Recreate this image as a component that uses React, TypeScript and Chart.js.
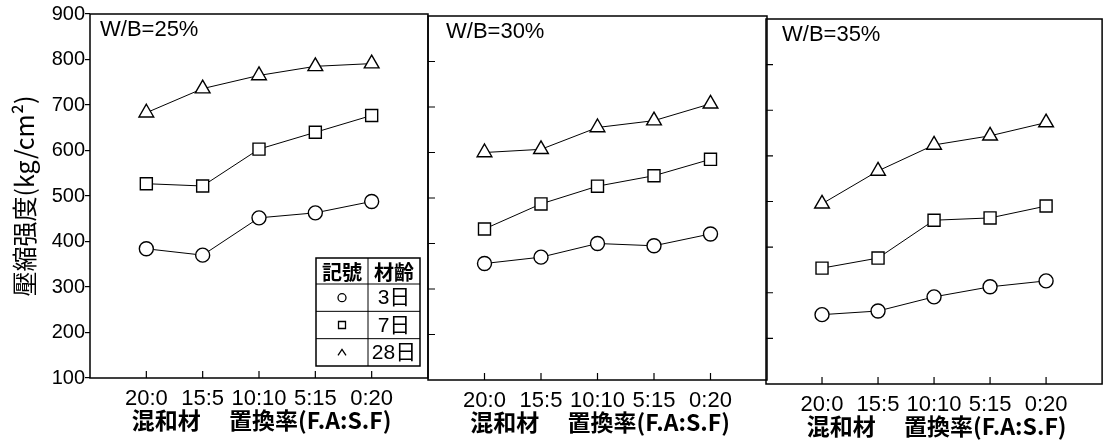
import React, { useEffect, useRef } from 'react';
import { Chart, registerables } from 'chart.js';

Chart.register(...registerables);

const W = 1112;
const H = 445;

// ---- data ----
const categories = ['20:0', '15:5', '10:10', '5:15', '0:20'];
const yMin = 100;
const yMax = 900;
const yStep = 100;
const panelTitles = ['W/B=25%', 'W/B=30%', 'W/B=35%'];
const ageLabels = ['3日', '7日', '28日'];
const legendHeader = ['記號', '材齡'];
const xAxisTitle = ' 混和材　 置換率(F.A:S.F)';
const yAxisTitle = '壓縮强度(kg/cm²)';

const wb25_day3 = [384, 370, 452, 463, 488];
const wb25_day7 = [527, 522, 603, 640, 677];
const wb25_day28 = [683, 736, 765, 785, 791];

const wb30_day3 = [356, 370, 400, 395, 421];
const wb30_day7 = [432, 487, 526, 549, 585];
const wb30_day28 = [600, 607, 655, 670, 707];

const wb35_day3 = [252, 260, 291, 313, 326];
const wb35_day7 = [354, 376, 459, 464, 490];
const wb35_day28 = [495, 567, 624, 644, 673];

const panelSeries = [
  [wb25_day3, wb25_day7, wb25_day28],
  [wb30_day3, wb30_day7, wb30_day28],
  [wb35_day3, wb35_day7, wb35_day28],
];

// ---- layout / style ----
const panelFrames = [
  { left: 90, right: 428, top: 14, bottom: 378, labelDx: 10 },
  { left: 428, right: 767, top: 16, bottom: 380, labelDx: 18 },
  { left: 766, right: 1103, top: 19, bottom: 384, labelDx: 16 },
];
const X_AXIS_H = 60;
const Y_AXIS_W = 86;
const LATIN = "'Liberation Sans', 'Noto Sans CJK KR', sans-serif";
const CJK = "'Noto Sans CJK KR', 'Liberation Sans', sans-serif";
const pointStyles = ['circle', 'rect', 'triangle'];
const pointRadii = [7, 8.5, 8.5];

function decorPlugin(i: number) {
  return {
    id: 'decor' + i,
    afterDraw(chart: any) {
      const ctx = chart.ctx as CanvasRenderingContext2D;
      const { left, right, top, bottom } = chart.chartArea;
      const xs = chart.scales.x;
      const ys = chart.scales.y;
      ctx.save();
      ctx.strokeStyle = '#000';
      ctx.fillStyle = '#000';
      // frame
      ctx.lineWidth = 1.5;
      ctx.strokeRect(left, top, right - left, bottom - top);
      // inward ticks
      ctx.lineWidth = 1.2;
      ctx.beginPath();
      categories.forEach((_, k) => {
        const px = xs.getPixelForValue(k);
        ctx.moveTo(px, bottom);
        ctx.lineTo(px, bottom - 7);
      });
      if (i > 0) {
        for (let v = yMin + yStep; v < yMax; v += yStep) {
          const py = ys.getPixelForValue(v);
          ctx.moveTo(left, py);
          ctx.lineTo(left + 7, py);
        }
      }
      ctx.stroke();
      // panel label
      ctx.font = `22px ${LATIN}`;
      ctx.textAlign = 'left';
      ctx.textBaseline = 'middle';
      ctx.fillText(panelTitles[i], left + panelFrames[i].labelDx, top + 16);

      if (i === 0) {
        // legend table
        const bx1 = right - 8;
        const by1 = bottom - 12;
        const bw = 104;
        const bh = 108;
        const bx0 = bx1 - bw;
        const by0 = by1 - bh;
        const midX = bx0 + bw / 2;
        const headH = 26;
        const rowH = (bh - headH) / 3;
        ctx.fillStyle = '#fff';
        ctx.fillRect(bx0, by0, bw, bh);
        ctx.fillStyle = '#000';
        ctx.lineWidth = 1.5;
        ctx.strokeRect(bx0, by0, bw, bh);
        ctx.lineWidth = 1;
        ctx.beginPath();
        ctx.moveTo(midX, by0);
        ctx.lineTo(midX, by1);
        for (let r = 0; r < 3; r++) {
          const yy = by0 + headH + r * rowH;
          ctx.moveTo(bx0, yy);
          ctx.lineTo(bx1, yy);
        }
        ctx.stroke();
        ctx.textAlign = 'center';
        ctx.textBaseline = 'middle';
        ctx.font = `bold 20px ${CJK}`;
        ctx.fillText(legendHeader[0], bx0 + bw / 4, by0 + headH / 2 + 1);
        ctx.fillText(legendHeader[1], bx0 + (3 * bw) / 4, by0 + headH / 2 + 1);
        chart.data.datasets.forEach((ds: any, r: number) => {
          const cy = by0 + headH + r * rowH + rowH / 2;
          const cx = bx0 + bw / 4;
          ctx.lineWidth = 1.3;
          ctx.beginPath();
          if (ds.pointStyle === 'circle') {
            ctx.arc(cx, cy, 4, 0, Math.PI * 2);
          } else if (ds.pointStyle === 'rect') {
            ctx.rect(cx - 3.5, cy - 3.5, 7, 7);
          } else {
            ctx.moveTo(cx - 4, cy + 3);
            ctx.lineTo(cx, cy - 3);
            ctx.lineTo(cx + 4, cy + 3);
          }
          ctx.stroke();
          ctx.font = `21px ${LATIN}`;
          ctx.fillText(ds.label, bx0 + (3 * bw) / 4, cy + 1);
        });
      }
      ctx.restore();
    },
  };
}

function buildConfig(i: number): any {
  const f = panelFrames[i];
  const datasets = panelSeries[i].map((vals, s) => ({
    label: ageLabels[s],
    data: vals.map((y, k) => ({ x: k, y })),
    borderColor: '#000',
    borderWidth: 1,
    pointStyle: pointStyles[s],
    pointRadius: pointRadii[s],
    pointBorderWidth: 1.4,
    pointBorderColor: '#000',
    pointBackgroundColor: '#fff',
    tension: 0,
    fill: false,
  }));
  const yScale: any = {
    display: i === 0,
    min: yMin,
    max: yMax,
    ticks: {
      stepSize: yStep,
      font: { family: LATIN, size: 20 },
      color: '#000',
      padding: 0,
    },
    grid: {
      display: true,
      drawOnChartArea: false,
      drawTicks: true,
      tickLength: 5,
      color: '#000',
      lineWidth: 1.2,
    },
    border: { display: false },
    title: {
      display: true,
      text: yAxisTitle,
      font: { family: CJK, size: 25 },
      color: '#000',
      padding: { top: 5, bottom: 0 },
    },
  };
  if (i === 0) {
    yScale.afterFit = (s: any) => {
      s.width = Y_AXIS_W;
    };
  }
  return {
    type: 'line',
    data: { datasets },
    plugins: [decorPlugin(i)],
    options: {
      animation: false,
      responsive: false,
      devicePixelRatio: 1,
      layout: {
        padding: {
          left: i === 0 ? f.left - Y_AXIS_W : f.left,
          right: W - f.right,
          top: f.top,
          bottom: H - f.bottom - X_AXIS_H,
        },
      },
      plugins: {
        legend: { display: false },
        tooltip: { enabled: false },
        title: { display: false },
      },
      scales: {
        x: {
          type: 'linear',
          min: -1,
          max: categories.length,
          afterBuildTicks: (s: any) => {
            s.ticks = categories.map((_, k) => ({ value: k }));
          },
          afterFit: (s: any) => {
            s.height = X_AXIS_H;
          },
          ticks: {
            callback: (v: number) => categories[v] ?? '',
            font: { family: LATIN, size: 22 },
            color: '#000',
            padding: 0,
            maxRotation: 0,
            autoSkip: false,
          },
          grid: { display: false },
          border: { display: false },
          title: {
            display: true,
            text: xAxisTitle,
            font: { family: CJK, size: 23, weight: 'bold' },
            color: '#000',
            padding: { top: 0, bottom: 4 },
          },
        },
        y: yScale,
      },
    },
  };
}

export default function App() {
  const r0 = useRef<HTMLCanvasElement>(null);
  const r1 = useRef<HTMLCanvasElement>(null);
  const r2 = useRef<HTMLCanvasElement>(null);

  useEffect(() => {
    const refs = [r0, r1, r2];
    const charts = refs.map((r, i) => new Chart(r.current as HTMLCanvasElement, buildConfig(i)));
    return () => charts.forEach((c) => c.destroy());
  }, []);

  const canvasStyle: React.CSSProperties = {
    position: 'absolute',
    left: 0,
    top: 0,
    width: W,
    height: H,
  };

  return (
    <div
      style={{
        position: 'fixed',
        left: 0,
        top: 0,
        width: W,
        height: H,
        background: '#fff',
        overflow: 'hidden',
      }}
    >
      <canvas ref={r0} width={W} height={H} style={canvasStyle} />
      <canvas ref={r1} width={W} height={H} style={canvasStyle} />
      <canvas ref={r2} width={W} height={H} style={canvasStyle} />
    </div>
  );
}
